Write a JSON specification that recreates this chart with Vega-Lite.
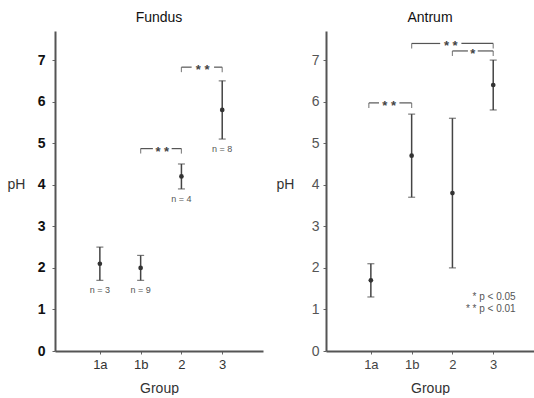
{
  "$schema": "https://vega.github.io/schema/vega-lite/v6.json",
  "padding": {"left": 7, "top": 11, "right": 0, "bottom": 0},
  "background": "white",
  "bounds": "flush",
  "spacing": 63,
  "config": {
    "view": {"stroke": null},
    "axis": {
      "grid": false,
      "domainColor": "#555",
      "domainWidth": 2,
      "tickColor": "#666",
      "tickSize": 3,
      "labelFont": "Liberation Sans",
      "labelFontSize": 13,
      "titleFont": "Liberation Sans",
      "titleFontSize": 14,
      "titleFontWeight": "normal",
      "titleColor": "#333"
    },
    "title": {"font": "Liberation Sans", "fontSize": 14, "fontWeight": "normal", "color": "#111", "offset": 6}
  },
  "datasets": {
    "fundus": [
      {"pos": 1, "mean": 2.1, "lo": 1.7, "hi": 2.5, "n": "n = 3"},
      {"pos": 2, "mean": 2.0, "lo": 1.7, "hi": 2.3, "n": "n = 9"},
      {"pos": 3, "mean": 4.2, "lo": 3.9, "hi": 4.5, "n": "n = 4"},
      {"pos": 4, "mean": 5.8, "lo": 5.1, "hi": 6.5, "n": "n = 8"}
    ],
    "antrum": [
      {"pos": 1, "mean": 1.7, "lo": 1.3, "hi": 2.1},
      {"pos": 2, "mean": 4.7, "lo": 3.7, "hi": 5.7},
      {"pos": 3, "mean": 3.8, "lo": 2.0, "hi": 5.6},
      {"pos": 4, "mean": 6.4, "lo": 5.8, "hi": 7.0}
    ],
    "fundusBrackets": [
      {"from": 2.0, "gapL": 2.3, "mid": 2.53, "gapR": 2.76, "to": 3.0, "y": 4.87, "stars": "* *"},
      {"from": 3.0, "gapL": 3.25, "mid": 3.52, "gapR": 3.8, "to": 4.0, "y": 6.83, "stars": "* *"}
    ],
    "antrumBrackets": [
      {"from": 0.95, "gapL": 1.2, "mid": 1.45, "gapR": 1.7, "to": 2.0, "y": 5.97, "stars": "* *"},
      {"from": 2.0, "gapL": 2.7, "mid": 2.96, "gapR": 3.22, "to": 4.0, "y": 7.4, "stars": "* *"},
      {"from": 3.0, "gapL": 3.38, "mid": 3.5, "gapR": 3.62, "to": 4.0, "y": 7.22, "stars": "*"}
    ],
    "legend": [
      {"label": "*  p < 0.05", "y": 1.32},
      {"label": "* *  p < 0.01", "y": 1.03}
    ]
  },
  "hconcat": [
    {
      "width": 208,
      "height": 320,
      "title": {"text": "Fundus"},
      "layer": [
        {
          "data": {"name": "fundus"},
          "mark": {"type": "rule", "color": "#444", "strokeWidth": 1.5},
          "encoding": {
            "x": {"field": "pos", "type": "quantitative", "scale": {"domain": [-0.1, 5.0], "nice": false, "zero": false},
              "axis": {"values": [1, 2, 3, 4], "labelExpr": "datum.value == 1 ? '1a' : datum.value == 2 ? '1b' : datum.value == 3 ? '2' : '3'", "title": "Group", "labelColor": "#333", "labelPadding": 4, "titlePadding": 10}},
            "y": {"field": "lo", "type": "quantitative", "scale": {"domain": [0, 7.7], "nice": false},
              "axis": {"values": [0, 1, 2, 3, 4, 5, 6, 7], "title": "pH", "titleAngle": 0, "titleAlign": "center", "titleBaseline": "middle", "titleX": -39, "titleY": 153, "labelColor": "#111", "labelFontWeight": "bold", "labelFontSize": 14, "labelPadding": 7}},
            "y2": {"field": "hi"}
          }
        },
        {
          "data": {"name": "fundus"},
          "mark": {"type": "tick", "orient": "horizontal", "size": 7, "thickness": 1.2, "color": "#444"},
          "encoding": {"x": {"field": "pos", "type": "quantitative"}, "y": {"field": "lo", "type": "quantitative"}}
        },
        {
          "data": {"name": "fundus"},
          "mark": {"type": "tick", "orient": "horizontal", "size": 7, "thickness": 1.2, "color": "#444"},
          "encoding": {"x": {"field": "pos", "type": "quantitative"}, "y": {"field": "hi", "type": "quantitative"}}
        },
        {
          "data": {"name": "fundus"},
          "mark": {"type": "point", "filled": true, "size": 22, "color": "#333", "opacity": 1},
          "encoding": {"x": {"field": "pos", "type": "quantitative"}, "y": {"field": "mean", "type": "quantitative"}}
        },
        {
          "data": {"name": "fundus"},
          "mark": {"type": "text", "font": "Liberation Sans", "fontSize": 9, "color": "#555", "dy": 10, "baseline": "middle"},
          "encoding": {"x": {"field": "pos", "type": "quantitative"}, "y": {"field": "lo", "type": "quantitative"}, "text": {"field": "n"}}
        },
        {
          "data": {"name": "fundusBrackets"},
          "mark": {"type": "rule", "color": "#555", "strokeWidth": 1.2},
          "encoding": {"x": {"field": "from", "type": "quantitative"}, "x2": {"field": "gapL"}, "y": {"field": "y", "type": "quantitative"}}
        },
        {
          "data": {"name": "fundusBrackets"},
          "mark": {"type": "rule", "color": "#555", "strokeWidth": 1.2},
          "encoding": {"x": {"field": "gapR", "type": "quantitative"}, "x2": {"field": "to"}, "y": {"field": "y", "type": "quantitative"}}
        },
        {
          "data": {"name": "fundusBrackets"},
          "mark": {"type": "tick", "orient": "vertical", "size": 5, "thickness": 1.2, "color": "#555", "yOffset": 2.5},
          "encoding": {"x": {"field": "from", "type": "quantitative"}, "y": {"field": "y", "type": "quantitative"}}
        },
        {
          "data": {"name": "fundusBrackets"},
          "mark": {"type": "tick", "orient": "vertical", "size": 5, "thickness": 1.2, "color": "#555", "yOffset": 2.5},
          "encoding": {"x": {"field": "to", "type": "quantitative"}, "y": {"field": "y", "type": "quantitative"}}
        },
        {
          "data": {"name": "fundusBrackets"},
          "mark": {"type": "text", "font": "Liberation Sans", "fontSize": 13, "fontWeight": "bold", "color": "#444", "baseline": "middle", "dy": 3},
          "encoding": {"x": {"field": "mid", "type": "quantitative"}, "y": {"field": "y", "type": "quantitative"}, "text": {"field": "stars"}}
        }
      ]
    },
    {
      "width": 208,
      "height": 320,
      "title": {"text": "Antrum"},
      "layer": [
        {
          "data": {"name": "antrum"},
          "mark": {"type": "rule", "color": "#444", "strokeWidth": 1.5},
          "encoding": {
            "x": {"field": "pos", "type": "quantitative", "scale": {"domain": [-0.1, 5.0], "nice": false, "zero": false},
              "axis": {"values": [1, 2, 3, 4], "labelExpr": "datum.value == 1 ? '1a' : datum.value == 2 ? '1b' : datum.value == 3 ? '2' : '3'", "title": "Group", "labelColor": "#444", "labelPadding": 4, "titlePadding": 10}},
            "y": {"field": "lo", "type": "quantitative", "scale": {"domain": [0, 7.7], "nice": false},
              "axis": {"values": [0, 1, 2, 3, 4, 5, 6, 7], "title": "pH", "titleAngle": 0, "titleAlign": "center", "titleBaseline": "middle", "titleX": -41, "titleY": 153, "labelColor": "#555", "labelFontSize": 14, "labelPadding": 4}},
            "y2": {"field": "hi"}
          }
        },
        {
          "data": {"name": "antrum"},
          "mark": {"type": "tick", "orient": "horizontal", "size": 7, "thickness": 1.2, "color": "#444"},
          "encoding": {"x": {"field": "pos", "type": "quantitative"}, "y": {"field": "lo", "type": "quantitative"}}
        },
        {
          "data": {"name": "antrum"},
          "mark": {"type": "tick", "orient": "horizontal", "size": 7, "thickness": 1.2, "color": "#444"},
          "encoding": {"x": {"field": "pos", "type": "quantitative"}, "y": {"field": "hi", "type": "quantitative"}}
        },
        {
          "data": {"name": "antrum"},
          "mark": {"type": "point", "filled": true, "size": 22, "color": "#333", "opacity": 1},
          "encoding": {"x": {"field": "pos", "type": "quantitative"}, "y": {"field": "mean", "type": "quantitative"}}
        },
        {
          "data": {"name": "antrumBrackets"},
          "mark": {"type": "rule", "color": "#555", "strokeWidth": 1.2},
          "encoding": {"x": {"field": "from", "type": "quantitative"}, "x2": {"field": "gapL"}, "y": {"field": "y", "type": "quantitative"}}
        },
        {
          "data": {"name": "antrumBrackets"},
          "mark": {"type": "rule", "color": "#555", "strokeWidth": 1.2},
          "encoding": {"x": {"field": "gapR", "type": "quantitative"}, "x2": {"field": "to"}, "y": {"field": "y", "type": "quantitative"}}
        },
        {
          "data": {"name": "antrumBrackets"},
          "mark": {"type": "tick", "orient": "vertical", "size": 5, "thickness": 1.2, "color": "#555", "yOffset": 2.5},
          "encoding": {"x": {"field": "from", "type": "quantitative"}, "y": {"field": "y", "type": "quantitative"}}
        },
        {
          "data": {"name": "antrumBrackets"},
          "mark": {"type": "tick", "orient": "vertical", "size": 5, "thickness": 1.2, "color": "#555", "yOffset": 2.5},
          "encoding": {"x": {"field": "to", "type": "quantitative"}, "y": {"field": "y", "type": "quantitative"}}
        },
        {
          "data": {"name": "antrumBrackets"},
          "mark": {"type": "text", "font": "Liberation Sans", "fontSize": 13, "fontWeight": "bold", "color": "#444", "baseline": "middle", "dy": 3},
          "encoding": {"x": {"field": "mid", "type": "quantitative"}, "y": {"field": "y", "type": "quantitative"}, "text": {"field": "stars"}}
        },
        {
          "data": {"name": "legend"},
          "mark": {"type": "text", "font": "Liberation Sans", "fontSize": 10, "color": "#555", "align": "right", "baseline": "middle", "dy": 1},
          "encoding": {"x": {"datum": 4.55, "type": "quantitative"}, "y": {"field": "y", "type": "quantitative"}, "text": {"field": "label"}}
        }
      ]
    }
  ]
}
